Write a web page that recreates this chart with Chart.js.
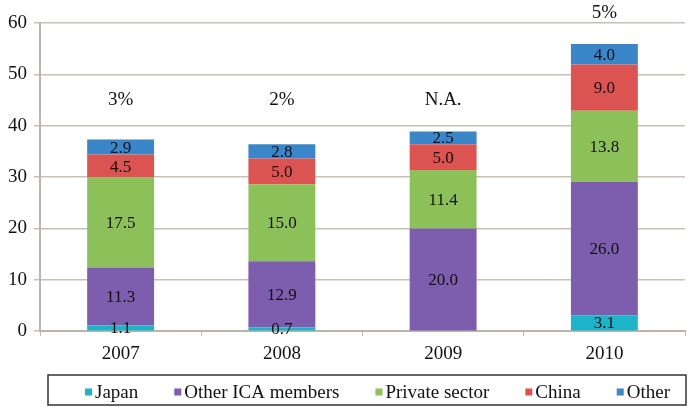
<!DOCTYPE html>
<html>
<head>
<meta charset="utf-8">
<script src="https://cdn.jsdelivr.net/npm/chart.js@4/dist/chart.umd.min.js"></script>
<style>
  html, body { margin: 0; padding: 0; background: #fff; }
  #wrap { width: 690px; height: 407px; }
</style>
</head>
<body>
<div id="wrap"><canvas id="fundChart"></canvas></div>
<script>
const years = ['2007', '2008', '2009', '2010'];
const japan = [1.1, 0.7, 0, 3.1];
const otherIca = [11.3, 12.9, 20.0, 26.0];
const privateSector = [17.5, 15.0, 11.4, 13.8];
const china = [4.5, 5.0, 5.0, 9.0];
const other = [2.9, 2.8, 2.5, 4.0];
const shareNotes = ['3%', '2%', 'N.A.', '5%'];
const yTicks = [0, 10, 20, 30, 40, 50, 60];

const serif = '"Liberation Serif", "DejaVu Serif", serif';

// numbers inside the bar segments + the % notes above each bar
const barLabels = {
    id: 'barLabels',
    afterDatasetsDraw(chart) {
        const ctx = chart.ctx;
        ctx.save();
        ctx.fillStyle = '#111';
        ctx.textAlign = 'center';
        ctx.textBaseline = 'middle';
        ctx.font = '17px ' + serif;
        chart.data.datasets.forEach((ds, i) => {
            const meta = chart.getDatasetMeta(i);
            meta.data.forEach((bar, j) => {
                const v = ds.data[j];
                if (!v) return;
                ctx.fillText(v.toFixed(1), bar.x, (bar.y + bar.base) / 2 + 1);
            });
        });
        ctx.font = '19px ' + serif;
        const yScale = chart.scales.y;
        const first = chart.getDatasetMeta(0).data;
        years.forEach((y, j) => {
            const total = japan[j] + otherIca[j] + privateSector[j] + china[j] + other[j];
            const pos = Math.max(45, total + 6);
            ctx.fillText(shareNotes[j], first[j].x, yScale.getPixelForValue(pos));
        });
        ctx.restore();
    }
};

// legend drawn by hand so the spacing matches (boxed, one row)
const boxedLegend = {
    id: 'boxedLegend',
    afterDraw(chart) {
        const ctx = chart.ctx;
        const sets = chart.data.datasets;
        const sq = 7, gapText = 3, gapItem = 36;
        ctx.save();
        ctx.font = '19px ' + serif;
        const widths = sets.map(ds => sq + gapText + ctx.measureText(ds.label).width);
        const total = widths.reduce((a, b) => a + b, 0) + gapItem * (sets.length - 1);
        const left = 48, right = 686, top = 375, bottom = 405;
        ctx.strokeStyle = '#333';
        ctx.lineWidth = 1.5;
        ctx.strokeRect(left, top, right - left, bottom - top);
        let x = 377.5 - total / 2;
        const cy = 392;
        ctx.textBaseline = 'middle';
        ctx.textAlign = 'left';
        sets.forEach((ds, i) => {
            ctx.fillStyle = ds.backgroundColor;
            ctx.fillRect(x, cy - sq / 2, sq, sq);
            ctx.fillStyle = '#111';
            ctx.fillText(ds.label, x + sq + gapText, cy + 1);
            x += widths[i] + gapItem;
        });
        ctx.restore();
    }
};

const ctx = document.getElementById('fundChart').getContext('2d');
const fundChart = new Chart(ctx, {
    type: 'bar',
    data: {
        labels: years,
        datasets: [
            { label: 'Japan', data: japan, backgroundColor: '#1cb4c8' },
            { label: 'Other ICA members', data: otherIca, backgroundColor: '#7d5dae' },
            { label: 'Private sector', data: privateSector, backgroundColor: '#8cc159' },
            { label: 'China', data: china, backgroundColor: '#dc5452' },
            { label: 'Other', data: other, backgroundColor: '#3a86c8' }
        ]
    },
    options: {
        responsive: true,
        maintainAspectRatio: false,
        animation: false,
        datasets: {
            bar: { barPercentage: 0.83, categoryPercentage: 0.5, borderWidth: 0 }
        },
        layout: { padding: { top: 23, right: 5, left: 1, bottom: 36 } },
        scales: {
            x: {
                stacked: true,
                grid: { drawOnChartArea: false, drawTicks: true, tickLength: 5, color: '#c2bab2', offset: true },
                border: { color: '#bdb5ad', width: 2 },
                ticks: { color: '#111', font: { family: serif, size: 19 }, padding: 6 }
            },
            y: {
                stacked: true,
                min: 0,
                max: 60,
                afterBuildTicks(axis) {
                    axis.ticks = yTicks.map(v => ({ value: v }));
                },
                grid: { color: '#c8c0b8', lineWidth: 1.5, tickLength: 6 },
                border: { color: '#bdb5ad', width: 2 },
                ticks: { color: '#111', font: { family: serif, size: 19 }, padding: 7 }
            }
        },
        plugins: {
            legend: { display: false },
            tooltip: { enabled: false }
        }
    },
    plugins: [barLabels, boxedLegend]
});
</script>
</body>
</html>
